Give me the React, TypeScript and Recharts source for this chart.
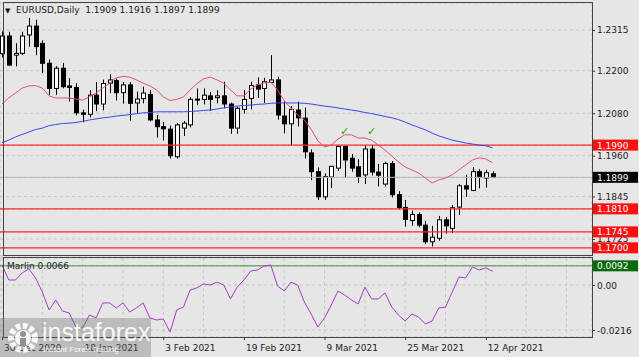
import {
  Bar,
  CartesianGrid,
  ComposedChart,
  Line,
  ReferenceDot,
  ReferenceLine,
  XAxis,
  YAxis
} from "recharts";

// EURUSD daily bars, 30 Dec 2020 .. 13 Apr 2021 (index 0..73)
const opens = [
  1.2248, 1.2298, 1.2244, 1.2249, 1.2301, 1.2326, 1.2277, 1.2221, 1.215, 1.2207,
  1.2157, 1.2153, 1.2081, 1.2077, 1.2131, 1.2106, 1.2165, 1.2172, 1.2138, 1.216,
  1.2109, 1.2121, 1.2133, 1.2061, 1.2042, 1.2035, 1.1957, 1.2038, 1.2047, 1.212,
  1.2119, 1.2129, 1.2124, 1.2129, 1.2106, 1.2038, 1.2091, 1.2122, 1.216, 1.215,
  1.2167, 1.2174, 1.2072, 1.205, 1.2089, 1.2066, 1.1968, 1.1915, 1.1844, 1.19,
  1.1925, 1.1986, 1.1953, 1.1929, 1.1906, 1.1979, 1.1914, 1.188, 1.1938, 1.185,
  1.1814, 1.1777, 1.1794, 1.1764, 1.1717, 1.1727, 1.1779, 1.1755, 1.1815, 1.1875,
  1.1862, 1.1915, 1.1897, 1.1909
];
const highs = [
  1.2311, 1.231, 1.2278, 1.231, 1.2349, 1.2344, 1.2286, 1.2232, 1.2213, 1.2222,
  1.2179, 1.2165, 1.209, 1.2145, 1.2168, 1.2175, 1.219, 1.2178, 1.2168, 1.2168,
  1.2141, 1.2155, 1.2145, 1.2075, 1.2055, 1.2045, 1.2052, 1.2058, 1.2125, 1.215,
  1.215, 1.214, 1.2145, 1.2169, 1.211, 1.2099, 1.2145, 1.2169, 1.2181, 1.218,
  1.2244, 1.2183, 1.2114, 1.21, 1.2113, 1.2096, 1.1978, 1.1927, 1.191, 1.1931,
  1.199, 1.199, 1.1965, 1.1951, 1.1989, 1.199, 1.1937, 1.1943, 1.1945, 1.186,
  1.1835, 1.1805, 1.18, 1.1776, 1.1762, 1.179, 1.1787, 1.1821, 1.188, 1.1906,
  1.1928, 1.1922, 1.192, 1.1916
];
const lows = [
  1.2237, 1.2213, 1.2212, 1.2244, 1.2268, 1.2244, 1.2193, 1.2132, 1.2132, 1.215,
  1.2113, 1.2074, 1.2054, 1.2068, 1.2086, 1.2088, 1.2137, 1.2116, 1.2107, 1.2059,
  1.208, 1.2108, 1.2057, 1.2011, 1.2003, 1.1952, 1.1952, 1.2016, 1.204, 1.2103,
  1.2105, 1.2087, 1.2108, 1.2094, 1.2022, 1.2022, 1.2079, 1.2091, 1.2123, 1.2109,
  1.2165, 1.2062, 1.2023, 1.199, 1.2043, 1.1952, 1.1891, 1.1835, 1.1835, 1.1869,
  1.1917, 1.1897, 1.1915, 1.1883, 1.188, 1.1904, 1.1873, 1.1873, 1.1842, 1.1808,
  1.176, 1.1762, 1.1758, 1.1711, 1.1704, 1.172, 1.174, 1.1742, 1.1793, 1.1844,
  1.186, 1.1868, 1.187, 1.1897
];
const closes = [
  1.2298, 1.2216, 1.2249, 1.2298, 1.2326, 1.2268, 1.2221, 1.215, 1.2207, 1.2155,
  1.2153, 1.2081, 1.2077, 1.2131, 1.2106, 1.2164, 1.2174, 1.2138, 1.216, 1.2108,
  1.212, 1.2137, 1.2061, 1.2042, 1.2036, 1.196, 1.2047, 1.2052, 1.2119, 1.2117,
  1.2131, 1.2119, 1.2129, 1.2106, 1.2038, 1.2094, 1.2119, 1.2158, 1.2148, 1.2169,
  1.2174, 1.2075, 1.205, 1.2091, 1.2067, 1.1971, 1.1915, 1.1844, 1.1901, 1.193,
  1.1986, 1.1948, 1.1925, 1.1901, 1.1979, 1.1914, 1.1905, 1.1938, 1.185, 1.1814,
  1.178, 1.1794, 1.1764, 1.1717, 1.173, 1.1779, 1.1762, 1.1813, 1.1875, 1.1866,
  1.1915, 1.1899, 1.1912, 1.1899
];

// red (fast) and blue (slow) moving averages
const fastMa = [
  1.2106, 1.2123, 1.2137, 1.2151, 1.2157, 1.2158, 1.2151, 1.2129, 1.2123, 1.2123,
  1.2123, 1.212, 1.2117, 1.2126, 1.2137, 1.2151, 1.2165, 1.218, 1.2184, 1.2182,
  1.2174, 1.2165, 1.2157, 1.2146, 1.2126, 1.2116, 1.2119, 1.2126, 1.2146, 1.2163,
  1.2177, 1.2182, 1.2174, 1.2165, 1.2146, 1.2129, 1.2129, 1.2148, 1.216, 1.2165,
  1.2168, 1.2146, 1.2115, 1.2095, 1.2075, 1.2061, 1.2035, 1.2002, 1.1985, 1.199,
  1.2007, 1.2019, 1.2019, 1.201, 1.201, 1.2004, 1.199, 1.1976, 1.1959, 1.1942,
  1.1928, 1.192, 1.1911, 1.1897, 1.1883, 1.1892, 1.1897, 1.1906, 1.192, 1.1934,
  1.1948, 1.1954, 1.1951, 1.194
];
const slowMa = [
  1.1997, 1.2004, 1.2013, 1.202, 1.2027, 1.2034, 1.2038, 1.2045, 1.2048, 1.2051,
  1.2052, 1.2054, 1.2057, 1.2061, 1.2064, 1.2067, 1.2069, 1.2072, 1.2074, 1.2076,
  1.2079, 1.2081, 1.2082, 1.2084, 1.2084, 1.2084, 1.2084, 1.2084, 1.2085, 1.2086,
  1.2088, 1.2089, 1.2092, 1.2095, 1.2098, 1.21, 1.2102, 1.2103, 1.2105, 1.2106,
  1.2108, 1.2109, 1.2109, 1.2109, 1.2109, 1.2108, 1.2106, 1.2103, 1.21, 1.2098,
  1.2095, 1.2092, 1.2089, 1.2086, 1.2082, 1.2079, 1.2075, 1.2071, 1.2067, 1.2062,
  1.2055, 1.2047, 1.204, 1.2033, 1.2024, 1.2016, 1.201, 1.2004, 1.2, 1.1996,
  1.1993, 1.199, 1.1988, 1.1982
];

// Marlin oscillator (lower window)
const marlin = [
  0.0096, 0.0024, 0.0024, 0.0058, 0.0077, 0.0034, -0.0034, -0.012, -0.0072, -0.0125,
  -0.0134, -0.0202, -0.0206, -0.0144, -0.0158, -0.0086, -0.0086, -0.011, -0.0086, -0.013,
  -0.011, -0.0086, -0.0158, -0.0168, -0.0163, -0.0226, -0.012, -0.0106, -0.0024, -0.0014,
  0.0005, 0.0, 0.0014, 0.0, -0.0067, -0.001, 0.0024, 0.0067, 0.0072, 0.0091,
  0.0096, -0.0005, -0.0029, 0.0014, 0.0, -0.0082, -0.0139, -0.0202, -0.0158, -0.0096,
  -0.0029, -0.0048, -0.0072, -0.0091, -0.001, -0.0067, -0.0067, -0.0038, -0.0106, -0.0144,
  -0.0173, -0.0139, -0.0154, -0.0187, -0.0173, -0.011, -0.0106, -0.0034, 0.0038, 0.0034,
  0.0086, 0.0072, 0.0082, 0.0066
];

const dateTickIdx = [0, 12, 24, 36, 48, 60, 72];
const dateTickLabels = [
  "30 Dec 2020",
  "18 Jan 2021",
  "3 Feb 2021",
  "19 Feb 2021",
  "9 Mar 2021",
  "25 Mar 2021",
  "12 Apr 2021"
];
const gridIdx = [0, 6, 12, 18, 24, 30, 36, 42, 48, 54, 60, 66, 72, 78, 84];

const priceTicks = [1.1725, 1.1845, 1.196, 1.208, 1.22, 1.2315];
const levels = [1.199, 1.181, 1.1745, 1.17];
const lastPrice = 1.1899;
const marlinTicks = [-0.0216, 0];
const marlinLevel = 0.0092;
const marlinNow = "0.0066";
const checkBars = [51, 55];
const checkPrice = 1.203;
const header = ["1.1909", "1.1916", "1.1897", "1.1899"];

const FONT = "'DejaVu Sans', Tahoma, sans-serif";
const AXIS_W = 47;
const xDomain: [number, number] = [-0.3, 87.8];
const priceDomain: [number, number] = [1.16769, 1.23912];
const marlinDomain: [number, number] = [-0.02496, 0.01296];

const bars = opens.map((o, i) => ({
  i,
  o,
  h: highs[i],
  l: lows[i],
  c: closes[i],
  range: [lows[i], highs[i]],
  fast: fastMa[i],
  slow: slowMa[i],
  marlin: marlin[i]
}));

function Candle(props: any) {
  const { x, y, width, height, payload } = props;
  if (!payload || y == null || height == null) return <g />;
  const top = Math.min(y, y + height);
  const bot = Math.max(y, y + height);
  const span = payload.h - payload.l;
  const toY = (p: number) => (span === 0 ? top : top + ((payload.h - p) / span) * (bot - top));
  const cx = Math.round(x + width / 2) + 0.5;
  const yo = toY(payload.o);
  const yc = toY(payload.c);
  const up = payload.c >= payload.o;
  return (
    <g>
      <line x1={cx} x2={cx} y1={top} y2={bot} stroke="#000" strokeWidth={1} />
      <rect
        x={cx - 2}
        y={Math.min(yo, yc)}
        width={4}
        height={Math.max(Math.abs(yo - yc), 1)}
        fill={up ? "#fff" : "#000"}
        stroke="#000"
        strokeWidth={1}
      />
    </g>
  );
}

function tagColour(v: number) {
  if (v === lastPrice) return "#000";
  if (levels.includes(v)) return "#ff1010";
  if (v === marlinLevel) return "#0a6a0a";
  return null;
}

function AxisTick(props: any) {
  const { x, y, payload } = props;
  const v: number = payload.value;
  const bg = tagColour(v);
  const label = v === 0 ? "0.00" : v.toFixed(4);
  if (bg) {
    return (
      <g>
        <rect x={x + 1} y={y - 5.5} width={45} height={11} fill={bg} />
        <text x={x + 5} y={y + 3.5} fontSize={9} fill="#fff" fontFamily={FONT}>
          {label}
        </text>
      </g>
    );
  }
  return (
    <g>
      <line x1={x} x2={x + 3} y1={y + 0.5} y2={y + 0.5} stroke="#333" />
      <text x={x + 5} y={y + 3.5} fontSize={9} fill="#222" fontFamily={FONT}>
        {label}
      </text>
    </g>
  );
}

function DateTick(props: any) {
  const { x, y, payload } = props;
  const k = dateTickIdx.indexOf(payload.value);
  if (k < 0) return <g />;
  return (
    <g>
      <line x1={x + 0.5} x2={x + 0.5} y1={y} y2={y + 3} stroke="#333" />
      <text x={x + 2} y={y + 13.5} fontSize={9} fill="#222" fontFamily={FONT}>
        {dateTickLabels[k]}
      </text>
    </g>
  );
}

function CheckMark(props: any) {
  return (
    <text
      x={props.cx}
      y={props.cy + 4}
      textAnchor="middle"
      fontSize={11}
      fontWeight="bold"
      fill="#22a022"
      fontFamily={FONT}
    >
      ✓
    </text>
  );
}

const frame = {
  position: "absolute" as const,
  border: "1px solid #444",
  pointerEvents: "none" as const,
  boxSizing: "border-box" as const
};

export default function App() {
  return (
    <div
      style={{
        position: "absolute",
        left: 0,
        top: 0,
        width: 639,
        height: 357,
        background: "#e6e6e6",
        overflow: "hidden",
        fontFamily: FONT
      }}
    >
      <div style={{ position: "absolute", left: 0, top: 0 }}>
        <ComposedChart width={639} height={260} data={bars} margin={{ top: 3, right: 0, bottom: 4, left: 0 }}>
          <CartesianGrid stroke="#c6c6c6" strokeDasharray="3 3" />
          <XAxis
            dataKey="i"
            type="number"
            domain={xDomain}
            allowDataOverflow
            ticks={gridIdx}
            height={0}
            tick={false}
            axisLine={false}
            tickLine={false}
          />
          <YAxis
            orientation="right"
            type="number"
            width={AXIS_W}
            domain={priceDomain}
            allowDataOverflow
            ticks={[...priceTicks, lastPrice, ...levels]}
            interval={0}
            tickSize={0}
            tickMargin={0}
            axisLine={false}
            tickLine={false}
            tick={<AxisTick />}
          />
          <ReferenceLine y={lastPrice} stroke="#b8b8b8" strokeWidth={1} />
          {levels.map((v) => (
            <ReferenceLine key={v} y={v} stroke="#ff2a2a" strokeWidth={1.2} />
          ))}
          <Bar dataKey="range" barSize={5} shape={<Candle />} isAnimationActive={false} />
          <Line type="linear" dataKey="slow" stroke="#3d45f0" strokeWidth={1} dot={false} isAnimationActive={false} />
          <Line type="linear" dataKey="fast" stroke="#e4506c" strokeWidth={1} dot={false} isAnimationActive={false} />
          {checkBars.map((b) => (
            <ReferenceDot key={b} x={b} y={checkPrice} r={4} ifOverflow="visible" shape={<CheckMark />} />
          ))}
        </ComposedChart>
      </div>

      <div style={{ position: "absolute", left: 0, top: 257 }}>
        <ComposedChart width={639} height={100} data={bars} margin={{ top: 1, right: 0, bottom: 0, left: 0 }}>
          <CartesianGrid stroke="#c6c6c6" strokeDasharray="3 3" />
          <XAxis
            dataKey="i"
            type="number"
            domain={xDomain}
            allowDataOverflow
            ticks={gridIdx}
            interval={0}
            height={20}
            tickSize={0}
            tickMargin={0}
            axisLine={false}
            tickLine={false}
            tick={<DateTick />}
          />
          <YAxis
            orientation="right"
            type="number"
            width={AXIS_W}
            domain={marlinDomain}
            allowDataOverflow
            ticks={[...marlinTicks, marlinLevel]}
            interval={0}
            tickSize={0}
            tickMargin={0}
            axisLine={false}
            tickLine={false}
            tick={<AxisTick />}
          />
          <ReferenceLine y={marlinLevel} stroke="#3c963c" strokeWidth={1} />
          <Line type="linear" dataKey="marlin" stroke="#a63cc6" strokeWidth={1} dot={false} isAnimationActive={false} />
        </ComposedChart>
      </div>

      <div style={{ ...frame, left: 3, top: 2, width: 590, height: 254 }} />
      <div style={{ ...frame, left: 3, top: 257, width: 590, height: 81 }} />

      <div
        style={{
          position: "absolute",
          left: 5,
          top: 4,
          fontSize: 9,
          color: "#1a1a1a",
          whiteSpace: "pre",
          lineHeight: "12px"
        }}
      >
        <span style={{ fontSize: 7 }}>▼</span>
        {"  EURUSD,Daily  " + header.join(" ")}
      </div>

      <div
        style={{
          position: "absolute",
          left: 7,
          top: 260,
          fontSize: 9,
          color: "#222",
          lineHeight: "12px"
        }}
      >
        {"Marlin " + marlinNow}
      </div>

      <div
        style={{
          position: "absolute",
          left: 0,
          top: 318,
          width: 151,
          height: 39,
          background: "rgba(110,110,110,0.35)"
        }}
      >
        <svg width={36} height={36} style={{ position: "absolute", left: 5, top: 2 }}>
          <circle cx={18} cy={18} r={12} fill="none" stroke="rgba(255,255,255,0.9)" strokeWidth={6} strokeDasharray="4.5 2.5" />
          <circle cx={18} cy={18} r={8} fill="rgba(255,255,255,0.9)" />
          <circle cx={18} cy={14} r={3} fill="rgba(120,120,120,0.8)" />
          <rect x={15} y={18} width={6} height={8} fill="rgba(120,120,120,0.8)" />
        </svg>
        <div
          style={{
            position: "absolute",
            left: 42,
            top: 0,
            fontFamily: "'Liberation Sans', Arial, sans-serif",
            fontSize: 25,
            color: "rgba(255,255,255,0.92)",
            lineHeight: "28px"
          }}
        >
          instaforex
        </div>
        <div
          style={{
            position: "absolute",
            left: 43,
            top: 27,
            fontFamily: "'Liberation Sans', Arial, sans-serif",
            fontSize: 8,
            color: "rgba(255,255,255,0.92)",
            lineHeight: "10px"
          }}
        >
          Instant Forex Trading
        </div>
      </div>
    </div>
  );
}
